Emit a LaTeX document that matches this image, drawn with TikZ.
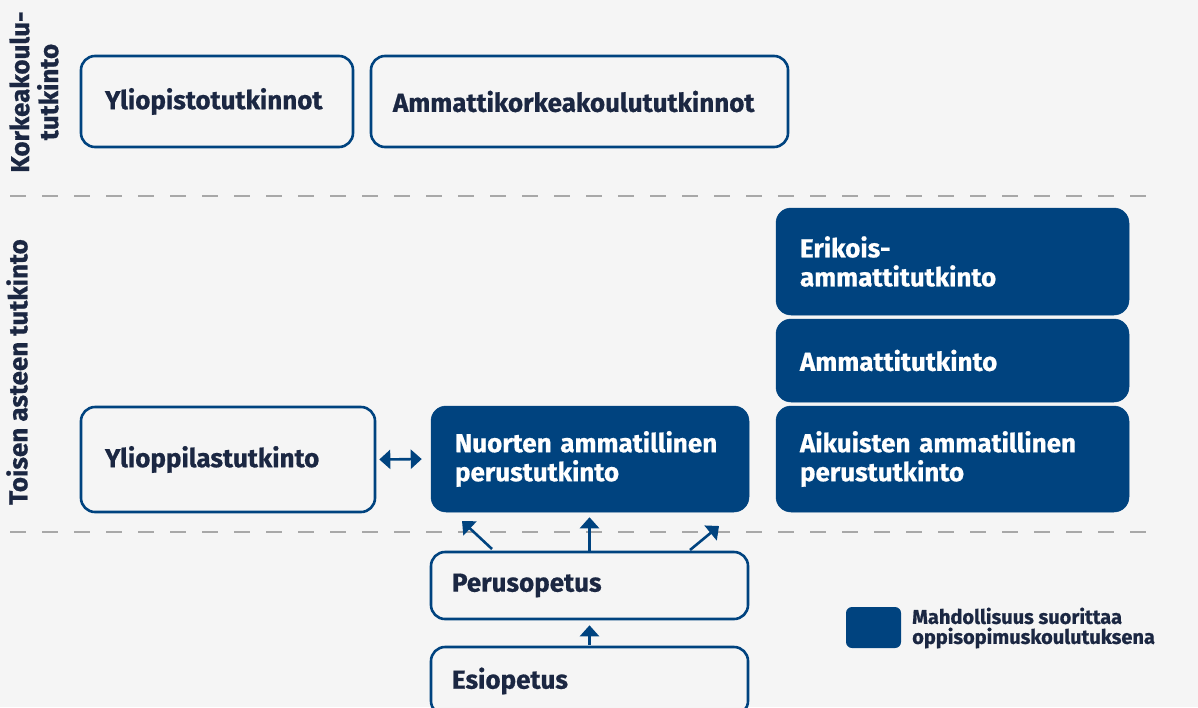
\documentclass[tikz,border=0pt]{standalone}
\usepackage{fontspec}
\setmainfont{Fira Sans}[BoldFeatures={FakeBold=0.7}]
\usetikzlibrary{arrows.meta,calc}
\definecolor{bg}{HTML}{F5F5F5}
\definecolor{blu}{HTML}{00437F}
\definecolor{txt}{HTML}{1B2742}
\definecolor{dashgray}{HTML}{A8A8A8}
\begin{document}
\begin{tikzpicture}[x=1pt,y=-1pt,
  font=\bfseries\fontsize{26}{29}\selectfont,
  wbox/.style={draw=blu, line width=2.6pt, fill=bg, rounded corners=14pt, text=txt, align=left, inner xsep=24pt, inner ysep=0pt},
  bbox/.style={draw=blu, fill=blu, line width=0.5pt, rounded corners=15pt, text=white, align=left, inner xsep=24pt, inner ysep=0pt},
  arr/.style={draw=blu, line width=2.6pt, -{Triangle[width=19pt,length=11pt]}},
  dbl/.style={draw=blu, line width=2.6pt, {Triangle[width=19pt,length=11pt]}-{Triangle[width=19pt,length=11pt]}},
  sep/.style={draw=dashgray, line width=2.8pt, dash pattern=on 16pt off 16pt},
  side/.style={rotate=90, text=txt, align=center, inner sep=0pt},
]
\fill[bg] (0,0) rectangle (1198,707);
\useasboundingbox (0,0) rectangle (1198,707);
\clip (0,0) rectangle (1198,707);

% separators
\coordinate (s1a) at (10,196);
\coordinate (s1b) at (1152,196);
\coordinate (s2a) at (10,532);
\coordinate (s2b) at (1152,532);
\draw[sep] (s1a) -- (s1b);
\draw[sep] (s2a) -- (s2b);

% side labels
\node[side] (korkea) at (34,92) {Korkeakoulu-\\tutkinto};
\node[side] (toinen) at (17,372) {Toisen asteen tutkinto};

% higher education
\node[wbox, text width=224pt, minimum height=91pt] (yo) at (217,101.5) {Yliopistotutkinnot};
\node[wbox, text width=373pt, inner xsep=22pt, minimum height=91pt] (amk) at (579.5,101.5) {Ammattikorkeakoulututkinnot};

% secondary
\node[wbox, text width=246pt, minimum height=105pt] (ylp) at (228,459.5) {Ylioppilastutkinto};
\node[bbox, text width=270pt, minimum height=106pt] (nuo) at (590,459) {Nuorten ammatillinen\\perustutkinto};
\node[bbox, text width=305pt, minimum height=107pt] (eri) at (952.5,261.5) {Erikois-\\ammattitutkinto};
\node[bbox, text width=305pt, minimum height=83pt] (amm) at (952.5,360.5) {Ammattitutkinto};
\node[bbox, text width=305pt, minimum height=106pt] (aik) at (952.5,459) {Aikuisten ammatillinen\\perustutkinto};

% basic
\node[wbox, text width=275pt, inner xsep=21pt, minimum height=67pt] (per) at (589.5,585.5) {Perusopetus};
\node[wbox, text width=275pt, inner xsep=21pt, minimum height=68pt] (esi) at (589.5,681) {Esiopetus};

% legend
\node[fill=blu, rounded corners=6pt, minimum width=55pt, minimum height=41pt, inner sep=0pt] (leg) at (873.5,627.5) {};
\node[anchor=west, text=txt, align=left, inner sep=0pt, font=\bfseries\fontsize{20}{20}\selectfont] (legt) at (912,628) {Mahdollisuus suorittaa\\oppisopimuskoulutuksena};

% arrows
\draw[dbl, shorten <=3pt, shorten >=9pt] (ylp.east) -- (nuo.west);
\draw[arr, shorten >=5pt] (per.north) -- (per.north |- nuo.south);
\coordinate (dla) at (492,549);
\coordinate (dlb) at (462,521);
\coordinate (dra) at (690,550);
\coordinate (drb) at (719,526);
\draw[arr] (dla) -- (dlb);
\draw[arr] (dra) -- (drb);
\draw[arr, shorten >=5pt, shorten <=1pt] (esi.north) -- (per.south);
\end{tikzpicture}
\end{document}
